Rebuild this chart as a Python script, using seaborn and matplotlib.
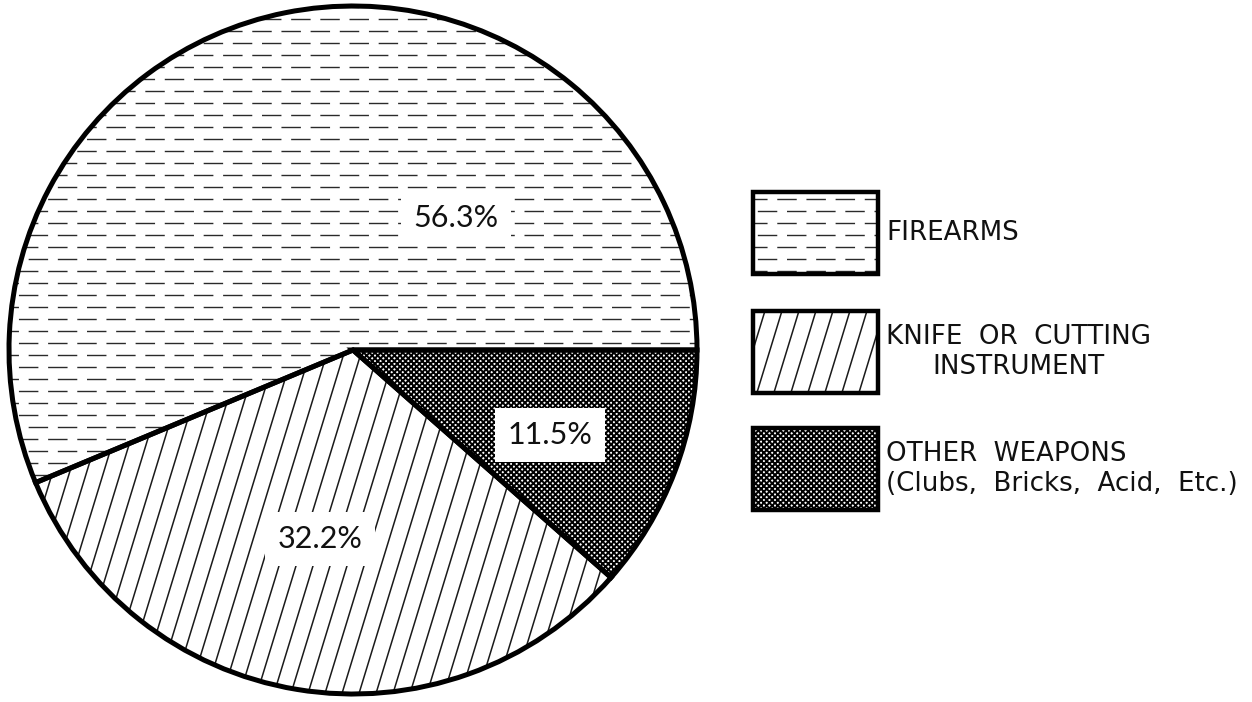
import matplotlib

matplotlib.use("Agg")
import matplotlib.pyplot as plt
from matplotlib.patches import Rectangle
import numpy as np
import seaborn as sns

categories = [
    "FIREARMS",
    "KNIFE  OR  CUTTING\nINSTRUMENT",
    "OTHER  WEAPONS\n(Clubs,  Bricks,  Acid,  Etc.)",
]
shares = [56.3, 32.2, 11.5]
pct_labels = ["56.3%", "32.2%", "11.5%"]
patterns = ["dash", "slant", "cross"]

sns.set_theme(style="white")
plt.rcParams["font.family"] = ["Lato", "DejaVu Sans"]
plt.rcParams["hatch.linewidth"] = 1.4

W, H = 1252, 702
CX, CY, R = 353, 350, 344  # pie centre / radius in pixels


def px(x, y):
    return (x - CX) / R, (CY - y) / R


fig = plt.figure(figsize=(W / 100, H / 100), dpi=100)
ax = fig.add_axes([0, 0, 1, 1])

wedges, _ = ax.pie(
    shares,
    startangle=0,
    counterclock=True,
    colors=["none"] * 3,
    wedgeprops=dict(edgecolor="black", linewidth=3.6, zorder=3),
)
ax.set_xlim(-CX / R, (W - CX) / R)
ax.set_ylim(-(H - CY) / R, CY / R)
ax.set_aspect("auto")
ax.axis("off")


def add_pattern(patch, kind):
    if kind == "dash":
        for i, y in enumerate(np.arange(-1.2, 1.2, 12 / R)):
            (ln,) = ax.plot([-1.2, 2.7], [y, y], color="#2a2a2a", lw=1.0,
                            linestyle=(7 * (i % 2), (14, 7)), zorder=2)
            ln.set_clip_path(patch)
    elif kind == "slant":
        cot = 1 / np.tan(np.radians(73))
        for x0 in np.arange(-2.0, 3.5, 17 / R):
            (ln,) = ax.plot([x0 - 1.2 * cot, x0 + 1.2 * cot], [-1.2, 1.2],
                            color="#1a1a1a", lw=1.1, zorder=2)
            ln.set_clip_path(patch)
    else:
        patch.set_hatch("xxxxxx")


for w, kind in zip(wedges, patterns):
    add_pattern(w, kind)

# percentage labels
label_pos = [(456, 218), (320, 539), (550, 435)]
for (lx, ly), txt in zip(label_pos, pct_labels):
    x, y = px(lx, ly)
    ax.text(x, y, txt, ha="center", va="center", fontsize=22, color="#111111",
            zorder=5, bbox=dict(boxstyle="square,pad=0.42", facecolor="white",
                                edgecolor="none"))

# legend
box_tops = [192, 311, 428]
for top, name, kind in zip(box_tops, categories, patterns):
    x0, y1 = px(753, top)
    x1, y0 = px(878, top + 82)
    rect = Rectangle((x0, y0), x1 - x0, y1 - y0, facecolor="none",
                     edgecolor="black", linewidth=3.2, zorder=3)
    ax.add_patch(rect)
    add_pattern(rect, kind)
    tx, ty = px(886, top + 41)
    ax.text(tx, ty, name, ha="left", va="center", fontsize=18.8,
            family="DejaVu Sans", color="#111111",
            multialignment="center" if kind == "slant" else "left",
            linespacing=1.2)

fig.savefig("out.png", dpi=100)
